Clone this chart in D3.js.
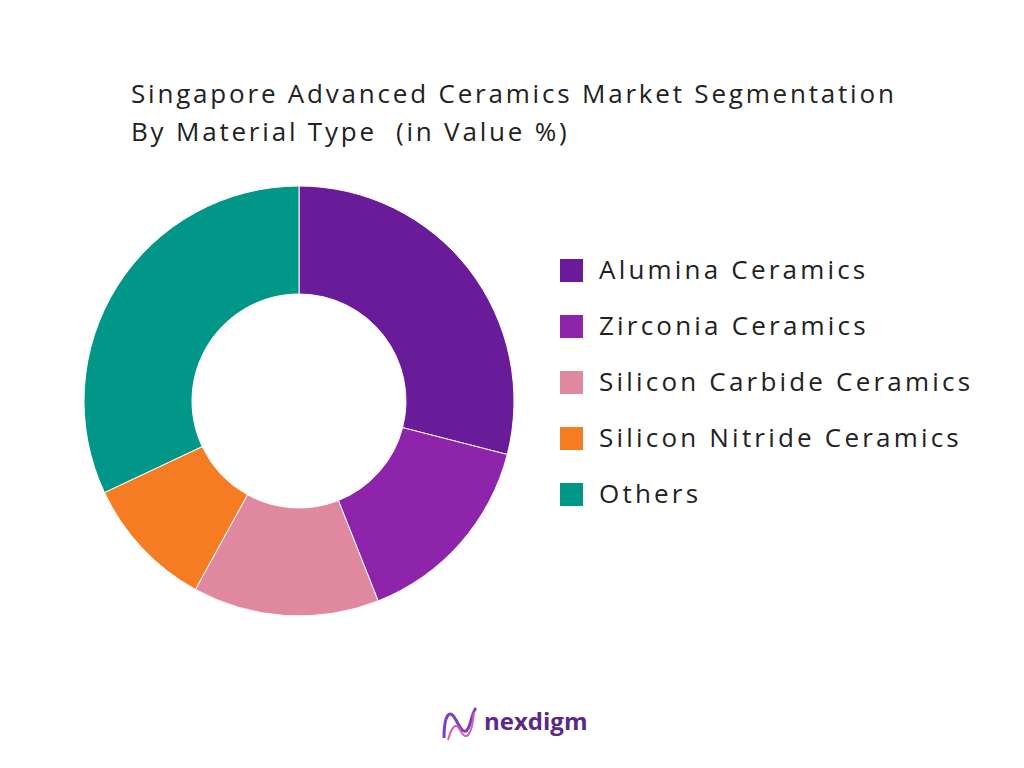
<!DOCTYPE html>
<html><head><meta charset="utf-8">
<script src="https://cdn.jsdelivr.net/npm/d3@7"></script>
<style>body{margin:0;background:#fff}</style>
</head><body>
<svg id="chart" width="1024" height="768"></svg>
<script>
const categories = ["Alumina Ceramics", "Zirconia Ceramics", "Silicon Carbide Ceramics", "Silicon Nitride Ceramics", "Others"];
const values = [29, 15, 14, 10, 32];
const colors = ["#6a1b9a", "#8e24aa", "#df88a0", "#f57c22", "#009688"];

const svg = d3.select("#chart");
const font = "'Open Sans', 'Noto Sans', sans-serif";

// title
svg.append("text").attr("x", 131).attr("y", 103)
  .style("font-family", font).style("font-size", "26px").style("fill", "#222")
  .style("letter-spacing", "2.8px").style("white-space", "pre")
  .text("Singapore Advanced Ceramics Market Segmentation");
svg.append("text").attr("x", 131).attr("y", 141)
  .style("font-family", font).style("font-size", "26px").style("fill", "#222")
  .style("letter-spacing", "2.8px").style("white-space", "pre")
  .text("By Material Type  (in Value %)");

// donut
const pie = d3.pie().sort(null).value(d => d);
const arc = d3.arc().innerRadius(107).outerRadius(215);
const g = svg.append("g").attr("transform", "translate(299,401)");
g.selectAll("path").data(pie(values)).enter().append("path")
  .attr("d", arc).attr("fill", (d, i) => colors[i])
  .attr("stroke", "#fff").attr("stroke-width", 1);

// legend
const lg = svg.append("g").attr("transform", "translate(560,259)");
const row = lg.selectAll("g").data(categories).enter().append("g")
  .attr("transform", (d, i) => `translate(0,${i * 56})`);
row.append("rect").attr("width", 23).attr("height", 23).attr("fill", (d, i) => colors[i]);
row.append("text").attr("x", 39).attr("y", 20)
  .style("font-family", font).style("font-size", "26px").style("fill", "#222")
  .style("letter-spacing", "3.2px")
  .text(d => d);

// logo
const logo = svg.append("g").attr("transform", "translate(442,706)");
logo.append("path").attr("d", "M2,32 C2,8 8,2 14,14 C20,26 24,30 28,18 C30,10 32,4 34,2")
  .attr("fill", "none").attr("stroke", "#7b3fc4").attr("stroke-width", 3);
logo.append("path").attr("d", "M6,34 C10,20 14,16 18,24 C24,36 30,30 32,6")
  .attr("fill", "none").attr("stroke", "#d060b0").attr("stroke-width", 2);
svg.append("text").attr("x", 484).attr("y", 730)
  .style("font-family", font).style("font-size", "24px").style("font-weight", "bold")
  .style("fill", "#5b2a86").text("nexdigm");
</script>
</body></html>
